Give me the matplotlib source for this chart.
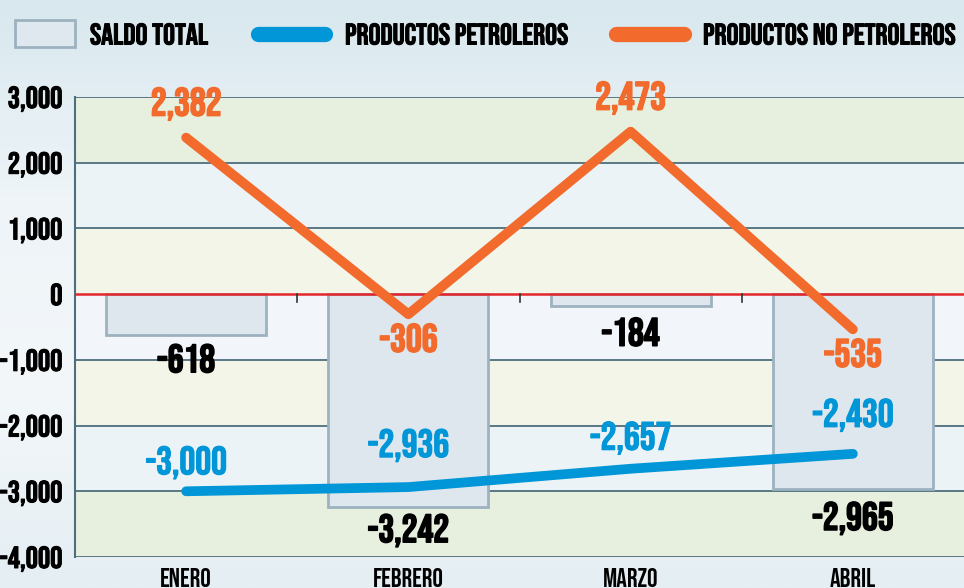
import matplotlib
matplotlib.use("Agg")
import matplotlib.pyplot as plt
import numpy as np
from matplotlib.patches import Rectangle
from matplotlib.lines import Line2D
from matplotlib.colors import LinearSegmentedColormap
import matplotlib.patheffects as pe

months = ["ENERO", "FEBRERO", "MARZO", "ABRIL"]
saldo_total = [-618, -3242, -184, -2965]
petroleros = [-3000, -2936, -2657, -2430]
no_petroleros = [2382, -306, 2473, -535]
yticks = [3000, 2000, 1000, 0, -1000, -2000, -3000, -4000]

plt.rcParams['font.family'] = ['Bebas Neue', 'DejaVu Sans']

BLUE = '#0096d8'
ORANGE = '#f26a2c'
GRID = '#4d6e7c'

def bold(color, lw=1.0):
    return [pe.withStroke(linewidth=lw, foreground=color)]

fig = plt.figure(figsize=(9.64, 5.88), dpi=100)
bg = fig.add_axes([0, 0, 1, 1], zorder=-10)
grad = np.linspace(0, 1, 256).reshape(-1, 1)
cm = LinearSegmentedColormap.from_list('bg', ['#d8e8ee', '#eef4f8', '#f3f7fa', '#e4eef3'])
bg.imshow(grad, aspect='auto', cmap=cm, extent=[0, 1, 0, 1], origin='upper')
bg.axis('off')

ax = fig.add_axes([75/964, (588-557)/588, 1-75/964, (557-97)/588])
ax.set_facecolor('none')
x = np.arange(len(months))
ax.set_xlim(-0.5, 3.5)
ax.set_ylim(-4000, 3000)

band_colors = ['#e7f0df', '#ebf3f6', '#f2f5e8', '#f2f6fa', '#f2f5e8', '#ebf3f6', '#e7f0df']
for i in range(7):
    ax.axhspan(yticks[i + 1], yticks[i], color=band_colors[i], zorder=0, lw=0)
for t in yticks:
    if t != 0:
        ax.axhline(t, color=GRID, lw=1.3, zorder=1)

ax.bar(x, saldo_total, width=0.72, color='#dde7ed', edgecolor='#9db2bf', lw=2, zorder=2)
ax.axhline(0, color='#e3262b', lw=1.8, zorder=3)
for b in [0.5, 1.5, 2.5]:
    ax.plot([b, b], [0, -120], color='#333333', lw=1.2, zorder=3)

ax.plot(x, petroleros, color=BLUE, lw=7, solid_capstyle='round', solid_joinstyle='round', zorder=4)
ax.plot(x, no_petroleros, color=ORANGE, lw=7, solid_capstyle='round', solid_joinstyle='round', zorder=5)

def fmt(v):
    return f"{v:,}"

lab_kw = dict(ha='center', va='center', fontsize=28.5, textcoords='offset points', zorder=6)
for i, v in enumerate(no_petroleros):
    off = 34 if v > 0 else -23
    ax.annotate(fmt(v), (x[i], v), xytext=(0, off * 0.72), color=ORANGE,
                path_effects=bold(ORANGE, 1.1), **lab_kw)
blue_off = [29, 42, 31, 39]
for i, v in enumerate(petroleros):
    ax.annotate(fmt(v), (x[i], v), xytext=(0, blue_off[i] * 0.72), color=BLUE,
                path_effects=bold(BLUE, 0.8), **lab_kw)
black_off = [-23, -23, -25, -29]
for i, v in enumerate(saldo_total):
    ax.annotate(fmt(v), (x[i], v), xytext=(0, black_off[i] * 0.72), color='black',
                path_effects=bold('black', 1.1), **lab_kw)

ax.set_yticks(yticks)
ax.set_yticklabels([fmt(t) for t in yticks], fontsize=22)
for lbl in ax.get_yticklabels():
    lbl.set_path_effects(bold('black', 0.7))
ax.set_xticks(x)
ax.set_xticklabels(months, fontsize=19)
ax.tick_params(axis='y', length=0, pad=9)
ax.tick_params(axis='x', length=0, pad=8)
for s in ['top', 'right', 'bottom']:
    ax.spines[s].set_visible(False)
ax.spines['left'].set_color(GRID)
ax.spines['left'].set_linewidth(1.5)

def fx(px):
    return px / 964
def fy(py):
    return 1 - py / 588
fig.add_artist(Rectangle((fx(15), fy(47)), fx(60), (47 - 20) / 588, transform=fig.transFigure,
                         facecolor='#dfe8ee', edgecolor='#9db2bf', lw=2))
leg_kw = dict(fontsize=21.5, va='center', ha='left', path_effects=bold('black', 0.7))
fig.text(fx(90), fy(34), 'SALDO TOTAL', **leg_kw)
fig.add_artist(Line2D([fx(258), fx(325)], [fy(34), fy(34)], transform=fig.transFigure, color=BLUE,
                      lw=11, solid_capstyle='round'))
fig.text(fx(345), fy(34), 'PRODUCTOS PETROLEROS', **leg_kw)
fig.add_artist(Line2D([fx(616), fx(684)], [fy(34), fy(34)], transform=fig.transFigure, color=ORANGE,
                      lw=11, solid_capstyle='round'))
fig.text(fx(703), fy(34), 'PRODUCTOS NO PETROLEROS', **leg_kw)

fig.savefig('out.png', dpi=100)
